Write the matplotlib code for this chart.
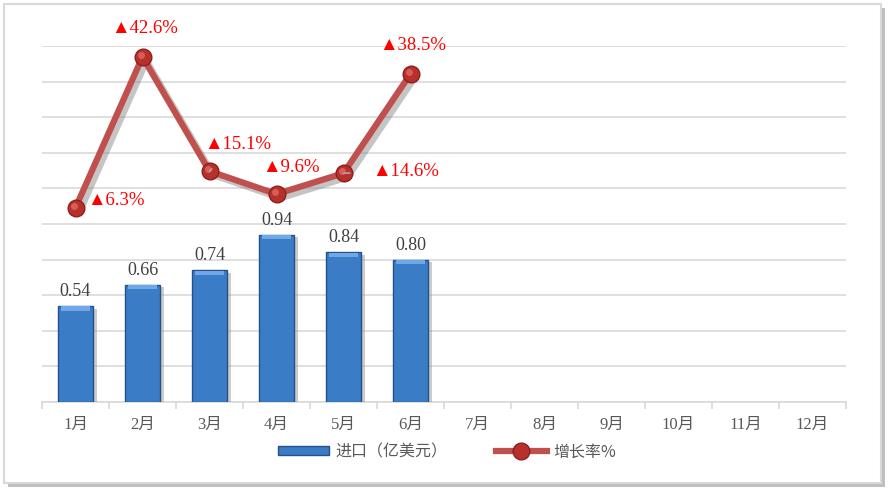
import matplotlib
matplotlib.use('Agg')
import matplotlib.pyplot as plt
import matplotlib.patheffects as pe
import matplotlib.transforms as mtransforms
from matplotlib.patches import Rectangle
from matplotlib.lines import Line2D
import numpy as np

plt.rcParams['font.family'] = ['Liberation Serif', 'Noto Sans CJK SC', 'DejaVu Sans']

months = ['1月', '2月', '3月', '4月', '5月', '6月', '7月', '8月', '9月', '10月', '11月', '12月']
imports = [0.54, 0.66, 0.74, 0.94, 0.84, 0.80]
growth = [6.3, 42.6, 15.1, 9.6, 14.6, 38.5]
growth_labels = ['▲6.3%', '▲42.6%', '▲15.1%', '▲9.6%', '▲14.6%', '▲38.5%']
# label offsets in pixels from each point, and whether a leader line is drawn
label_offsets = [(40, 7), (2, 28), (28, 27), (14, 27), (62, 2), (2, 28)]
leader = [False, False, True, False, True, False]

fig = plt.figure(figsize=(8.94, 4.95), dpi=100)

# frame with shadow
fig.patches.append(Rectangle((8 / 894, 8 / 495), 877 / 894, 479 / 495, transform=fig.transFigure,
                             facecolor='#BFBFBF', edgecolor='none', zorder=-3))
fig.patches.append(Rectangle((4 / 894, 12 / 495), 877 / 894, 479 / 495, transform=fig.transFigure,
                             facecolor='white', edgecolor='#D9D9D9', linewidth=1.5, zorder=-2))

ax = fig.add_axes([42 / 894, 1 - 402 / 495, 804 / 894, 356 / 495])
ax.patch.set_alpha(0)
x = np.arange(len(imports))
bars = ax.bar(x, imports, width=0.52, color='#3B7CC6', edgecolor='#24518A', linewidth=1.0, zorder=3,
              path_effects=[pe.SimplePatchShadow(offset=(3, -2), shadow_rgbFace='#9A9A9A', alpha=0.5), pe.Normal()])
# lighter bevel at the top of each bar
ax.bar(x, [0.025] * len(imports), bottom=np.array(imports) - 0.027, width=0.44,
       color='#6FA8E6', edgecolor='none', zorder=4)
for xi, v in zip(x, imports):
    ax.annotate(f'{v:.2f}', (xi, v), xytext=(0, 6), textcoords='offset pixels',
                ha='center', va='bottom', fontsize=13, color='#404040')

ax2 = ax.twinx()
ax2.set_ylim(-40.4, 45.2)
ax2.axis('off')

ax.set_ylim(0, 2.0)
ax.set_yticks(np.arange(0, 2.01, 0.2))
ax.yaxis.grid(True, color='#D9D9D9', linewidth=1.2)
ax.set_axisbelow(True)
ax.tick_params(axis='y', which='both', left=False, right=False, labelleft=False, labelright=False)
ax.set_xlim(-0.5, 11.5)
ax.set_xticks(np.arange(12))
ax.set_xticklabels(months, fontsize=12, color='#595959')
ax.tick_params(axis='x', which='major', length=0, pad=11)
ax.set_xticks(np.arange(-0.5, 12, 1), minor=True)
ax.tick_params(axis='x', which='minor', length=5, color='#D9D9D9', width=1.2)
for s in ['top', 'left', 'right']:
    ax.spines[s].set_visible(False)
ax.spines['bottom'].set_color('#D9D9D9')
ax.spines['bottom'].set_linewidth(1.2)

# line with shadow, markers drawn on top
ax2.plot(x, growth, color='#C0504D', linewidth=4.5, zorder=5, solid_capstyle='round',
         path_effects=[pe.SimpleLineShadow(offset=(3, -3), shadow_color='#808080', alpha=0.45), pe.Normal()])
ax2.plot(x, growth, linestyle='none', marker='o', markersize=12,
         markerfacecolor='#B8302B', markeredgecolor='#8E1F1C', markeredgewidth=1, zorder=6)
# small highlight, shifted up-left, for a sphere look
hl = mtransforms.offset_copy(ax2.transData, fig=fig, x=-2, y=2, units='dots')
ax2.plot(x, growth, linestyle='none', marker='o', markersize=5, transform=hl,
         markerfacecolor='#E06A64', markeredgecolor='none', alpha=0.8, zorder=7)
for xi, g, lab, off, ld in zip(x, growth, growth_labels, label_offsets, leader):
    ax2.annotate(lab, (xi, g), xytext=off, textcoords='offset pixels', ha='center', va='center',
                 fontsize=13.5, color='#FF0000',
                 family=['Liberation Serif', 'DejaVu Sans'], zorder=8,
                 arrowprops=dict(arrowstyle='-', color='#A6A6A6', lw=1.2, shrinkA=14, shrinkB=0)
                 if ld else None)

handles = [Rectangle((0, 0), 1, 1, facecolor='#3B7CC6', edgecolor='#24518A'),
           Line2D([], [], color='#C0504D', linewidth=4.5, marker='o', markersize=12,
                  markerfacecolor='#B8302B', markeredgecolor='#8E1F1C')]
leg = fig.legend(handles, ['进口（亿美元）', '增长率%'], loc='center', bbox_to_anchor=(0.5, 1 - 452 / 495),
                 ncol=2, frameon=False, handlelength=3.2, handleheight=0.5, handletextpad=0.4,
                 columnspacing=3.0, prop={'family': ['Noto Sans CJK SC'], 'size': 11.5})
for t in leg.get_texts():
    t.set_color('#595959')

fig.savefig('out.png', dpi=100)
